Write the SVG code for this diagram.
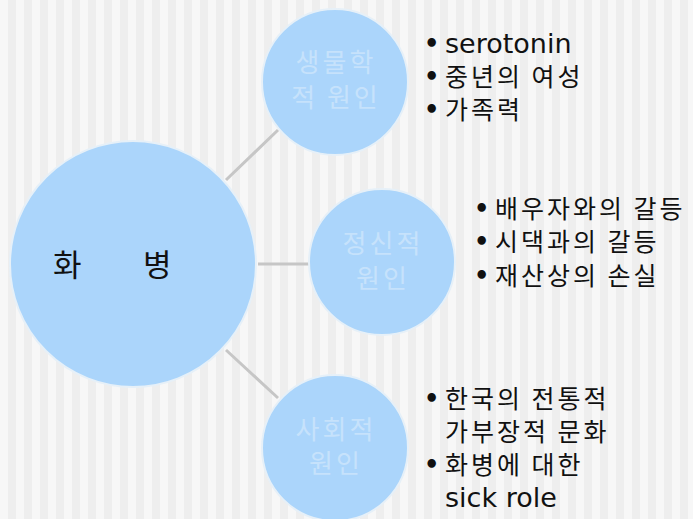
<svg xmlns="http://www.w3.org/2000/svg" width="693" height="519" viewBox="0 0 693 519">
<defs>
<pattern id="stripes" x="0" y="0" width="16" height="16" patternUnits="userSpaceOnUse">
<rect width="16" height="16" fill="#f7f7f7"/>
<rect x="8" width="8" height="16" fill="#eeeeee"/>
</pattern>
</defs>
<style>
.node{fill:#abd5fb;stroke:#e6f0f8;stroke-width:2}
.sub{font-family:"Noto Sans CJK KR","Noto Sans",sans-serif;font-size:26px;letter-spacing:3px;fill:#c6e2fb;text-anchor:middle}
.main{font-family:"Noto Sans CJK KR","Noto Sans",sans-serif;font-size:31px;fill:#111}
.item{font-family:"Noto Sans CJK KR","Noto Sans",sans-serif;font-size:25px;letter-spacing:3px;fill:#111}
.bul{font-family:"DejaVu Sans",sans-serif;font-size:24px;font-weight:bold;fill:#111}
.lat{font-family:"DejaVu Sans","Noto Sans",sans-serif;font-size:27px;fill:#111}
.conn line{stroke:#c6c6c6;stroke-width:3}
</style>
<rect width="693" height="519" fill="url(#stripes)"/>
<g class="conn">
<line x1="226" y1="180" x2="278" y2="130"/>
<line x1="258" y1="264" x2="310" y2="264"/>
<line x1="226" y1="350" x2="278" y2="398"/>
</g>
<g id="n-main">
<circle class="node" cx="133" cy="264" r="123"/>
<text class="main" x="53" y="276">화</text>
<text class="main" x="143" y="276">병</text>
</g>
<g id="n-bio">
<circle class="node" cx="335" cy="82" r="73"/>
<text class="sub" x="336" y="72">생물학</text>
<text class="sub" x="336" y="107">적 원인</text>
</g>
<g id="n-mental">
<circle class="node" cx="382" cy="262" r="73"/>
<text class="sub" x="383" y="253">정신적</text>
<text class="sub" x="383" y="288">원인</text>
</g>
<g id="n-social">
<circle class="node" cx="335" cy="448" r="73"/>
<text class="sub" x="336" y="439">사회적</text>
<text class="sub" x="336" y="473">원인</text>
</g>
<g id="list-bio">
<text class="bul" x="424" y="52">•</text><text class="lat" x="445" y="53">serotonin</text>
<text class="bul" x="424" y="85">•</text><text class="item" x="445" y="86">중년의 여성</text>
<text class="bul" x="424" y="118">•</text><text class="item" x="445" y="119">가족력</text>
</g>
<g id="list-mental">
<text class="bul" x="474" y="217">•</text><text class="item" x="495" y="218">배우자와의 갈등</text>
<text class="bul" x="474" y="250">•</text><text class="item" x="495" y="251">시댁과의 갈등</text>
<text class="bul" x="474" y="284">•</text><text class="item" x="495" y="285">재산상의 손실</text>
</g>
<g id="list-social">
<text class="bul" x="424" y="407">•</text><text class="item" x="445" y="408">한국의 전통적</text>
<text class="item" x="445" y="441">가부장적 문화</text>
<text class="bul" x="424" y="473">•</text><text class="item" x="445" y="474">화병에 대한</text>
<text class="lat" x="445" y="507">sick role</text>
</g>
</svg>
